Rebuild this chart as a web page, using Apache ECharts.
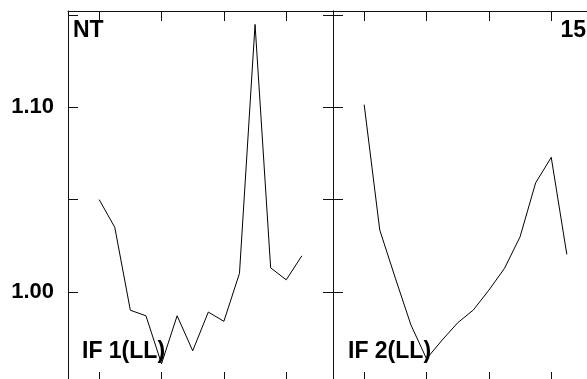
<!DOCTYPE html>
<html><head><meta charset="utf-8">
<script src="https://cdn.jsdelivr.net/npm/echarts@6/dist/echarts.min.js"></script>
<style>html,body{margin:0;padding:0;background:#fff}#c{width:587px;height:379px}</style>
</head><body><div id="c"></div>
<script>
// ---- data ----
const xIndex = [0,1,2,3,4,5,6,7,8,9,10,11,12,13];
const seriesIF1 = [1.050,1.035,0.990,0.987,0.961,0.987,0.968,0.989,0.984,1.010,1.145,1.013,1.0065,1.0195];
const seriesIF2 = [1.1015,1.0335,1.0074,0.982,0.9637,0.9738,0.9832,0.9901,1.0009,1.0127,1.0298,1.0591,1.0729,1.0203];
const yTickValues = [0.95,1.00,1.05,1.10,1.15];
const yLabelValues = [1.00,1.10];
const xTickValues = [0,4,8,12];
const panelLabels = ['IF 1(LL)','IF 2(LL)'];
const cornerLabels = ['NT','15'];
const xMin = -2, xMax = 15;
const yMin = 0.95, yMax = 1.15228;

// ---- chart ----
const FONT = 'bold 23px "Liberation Sans", Arial, sans-serif';
const AX = '#111';
const grids = [
  {left: 68, top: 11, width: 265, height: 373, outerBoundsMode: 'none', containLabel: false},
  {left: 333, top: 11, width: 265, height: 373, outerBoundsMode: 'none', containLabel: false}
];
const xAxes = [], yAxes = [], series = [];
[seriesIF1, seriesIF2].forEach((vals, g) => {
  ['bottom','top'].forEach(pos => {
    xAxes.push({
      type: 'value', gridIndex: g, position: pos, min: xMin, max: xMax,
      axisLine: {show: true, onZero: false, lineStyle: {color: AX, width: 1}},
      axisTick: {show: true, inside: true, length: pos === 'bottom' ? 12 : 10,
                 customValues: xTickValues, lineStyle: {color: AX, width: 1}},
      axisLabel: {show: false},
      splitLine: {show: false}
    });
  });
  ['left','right'].forEach(pos => {
    yAxes.push({
      type: 'value', gridIndex: g, position: pos, min: yMin, max: yMax,
      axisLine: {show: true, onZero: false, lineStyle: {color: AX, width: 1}},
      axisTick: {show: true, inside: true, length: 10,
                 customValues: yTickValues, lineStyle: {color: AX, width: 1}},
      axisLabel: {show: g === 0 && pos === 'left', inside: false, margin: 14,
                  customValues: yLabelValues,
                  formatter: v => Number(v).toFixed(2),
                  color: '#000', fontSize: 22, fontWeight: 'bold',
                  fontFamily: '"Liberation Sans", Arial, sans-serif'},
      splitLine: {show: false}
    });
  });
  series.push({
    type: 'line', xAxisIndex: g * 2, yAxisIndex: g * 2,
    data: xIndex.map((x, i) => [x, vals[i]]),
    showSymbol: false, symbol: 'none', silent: true,
    lineStyle: {color: '#000', width: 1}, animation: false
  });
});

const chart = echarts.init(document.getElementById('c'), null, {renderer: 'canvas'});
chart.setOption({
  animation: false,
  backgroundColor: '#fff',
  grid: grids,
  xAxis: xAxes,
  yAxis: yAxes,
  series: series,
  graphic: [
    {type: 'text', x: 73, y: 31, style: {text: cornerLabels[0], font: FONT, fill: '#000', align: 'left', verticalAlign: 'middle'}},
    {type: 'text', x: 586, y: 31, style: {text: cornerLabels[1], font: FONT, fill: '#000', align: 'right', verticalAlign: 'middle'}},
    {type: 'text', x: 82, y: 352, style: {text: panelLabels[0], font: FONT, fill: '#000', align: 'left', verticalAlign: 'middle'}},
    {type: 'text', x: 348, y: 352, style: {text: panelLabels[1], font: FONT, fill: '#000', align: 'left', verticalAlign: 'middle'}}
  ]
});
</script></body></html>
